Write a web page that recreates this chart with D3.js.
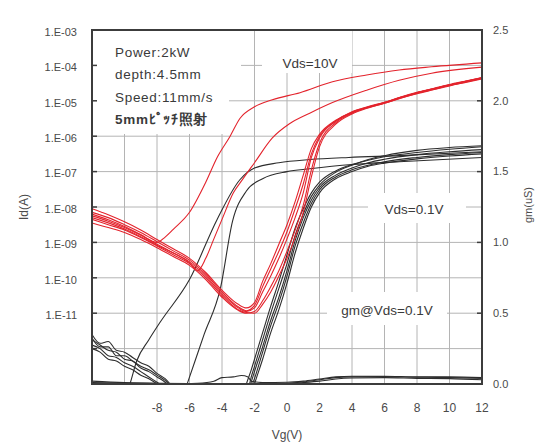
<!DOCTYPE html>
<html>
<head>
<meta charset="utf-8">
<script src="https://cdn.jsdelivr.net/npm/d3@7"></script>
<style>
  body { margin: 0; background: #fff; }
  text { font-family: 'Liberation Sans', Arial, sans-serif; }
</style>
</head>
<body>
<svg width="537" height="444"></svg>
<script>
// ---- data ----
const logTicks = [-3, -4, -5, -6, -7, -8, -9, -10, -11];
const logTickLabels = ['1.E-03', '1.E-04', '1.E-05', '1.E-06', '1.E-07', '1.E-08', '1.E-09', '1.E-10', '1.E-11'];
const vgTicks = [-8, -6, -4, -2, 0, 2, 4, 6, 8, 10, 12];
const gmTicks = [0, 0.5, 1.0, 1.5, 2.0, 2.5];

// Vds=10V, bundle of repeated sweeps (log10 Id)
const vgRed = [-12, -11, -10, -9, -8, -7, -6, -5, -4, -3, -2.5, -2, -1.5, -1, -0.5, 0, 0.5, 1, 1.5, 2, 3, 4, 5, 6, 7, 8, 9, 10, 11, 12];
const red1 = [-8.25, -8.40, -8.58, -8.80, -9.05, -9.30, -9.55, -9.95, -10.45, -10.85, -10.95, -10.85, -10.40, -9.95, -9.45, -8.90, -8.30, -7.60, -6.60, -6.05, -5.58, -5.32, -5.17, -5.05, -4.90, -4.77, -4.66, -4.55, -4.45, -4.35];
const red2 = [-8.05, -8.22, -8.42, -8.65, -8.92, -9.18, -9.45, -9.85, -10.35, -10.75, -10.85, -10.70, -10.10, -9.60, -9.05, -8.50, -7.85, -7.10, -6.35, -5.95, -5.55, -5.33, -5.19, -5.07, -4.93, -4.80, -4.69, -4.58, -4.48, -4.38];
const red3 = [-8.45, -8.58, -8.72, -8.92, -9.15, -9.40, -9.65, -10.05, -10.55, -10.92, -11.00, -10.95, -10.65, -10.25, -9.80, -9.25, -8.65, -7.95, -6.95, -6.20, -5.62, -5.35, -5.18, -5.05, -4.90, -4.77, -4.66, -4.55, -4.45, -4.35];
const red4 = [-8.15, -8.30, -8.50, -8.72, -8.98, -9.24, -9.50, -9.90, -10.40, -10.82, -10.93, -10.78, -10.25, -9.75, -9.25, -8.70, -8.05, -7.35, -6.50, -6.00, -5.57, -5.31, -5.16, -5.04, -4.89, -4.76, -4.65, -4.54, -4.44, -4.34];
const red5 = [-8.35, -8.50, -8.65, -8.86, -9.10, -9.35, -9.60, -10.00, -10.50, -10.90, -10.98, -11.00, -10.75, -10.40, -9.95, -9.45, -8.85, -8.15, -7.15, -6.30, -5.66, -5.37, -5.20, -5.07, -4.92, -4.79, -4.68, -4.57, -4.47, -4.37];

// Vds=10V, two sweeps that turned on early ([Vg, log10 Id])
const redEarlyA = [[-12, -8.2], [-11, -8.36], [-10, -8.55], [-9, -8.78], [-8, -9.0], [-7.5, -8.85], [-7, -8.63], [-6, -8.15], [-5, -7.3], [-4.3, -6.6], [-3.5, -6.0], [-2.9, -5.5], [-2, -5.17], [-0.9, -4.97], [0.8, -4.77], [2.8, -4.46], [4.9, -4.27], [6.9, -4.13], [8.9, -4.04], [12, -3.93]];
const redEarlyB = [[-12, -8.3], [-10, -8.62], [-8, -9.08], [-6, -9.58], [-5.5, -9.8], [-5, -9.45], [-4.5, -8.9], [-4, -8.35], [-3.3, -7.6], [-2.7, -7.2], [-2, -6.75], [-0.9, -6.05], [0.15, -5.65], [1.4, -5.35], [2.8, -5.05], [4.9, -4.7], [6.9, -4.42], [8.9, -4.22], [12, -4.05]];

// Vds=0.1V, bundle (log10 Id)
const vgBlack = [-12, -11.5, -11, -10.5, -10, -9.5, -9, -8.5, -8, -7.5, -7, -5, -3, -2.5, -2.2, -2, -1.5, -1, -0.5, 0, 0.5, 1, 1.5, 2, 3, 4, 5, 6, 8, 10, 12];
const black1 = [-11.6, -11.85, -11.8, -12.05, -12.1, -12.25, -12.4, -12.5, -12.7, -12.85, -13.1, -13.8, -13.9, -13.6, -12.95, -12.65, -11.95, -11.2, -10.55, -9.8, -8.95, -8.3, -7.8, -7.45, -7.1, -6.9, -6.75, -6.65, -6.52, -6.44, -6.38];
const black2 = [-11.75, -11.9, -12.05, -12.1, -12.3, -12.35, -12.55, -12.65, -12.8, -12.95, -13.2, -13.9, -13.9, -13.0, -12.6, -12.3, -11.55, -10.8, -10.1, -9.35, -8.6, -8.05, -7.6, -7.3, -6.98, -6.8, -6.68, -6.58, -6.46, -6.37, -6.3];
const black3 = [-11.9, -12.0, -12.2, -12.25, -12.4, -12.5, -12.65, -12.8, -12.95, -13.1, -13.35, -13.9, -13.9, -13.8, -13.3, -13.0, -12.3, -11.55, -10.9, -10.15, -9.3, -8.6, -8.0, -7.6, -7.2, -7.0, -6.85, -6.76, -6.64, -6.56, -6.5];
const black4 = [-11.7, -11.95, -11.95, -12.2, -12.2, -12.35, -12.5, -12.6, -12.75, -12.9, -13.15, -13.9, -13.9, -13.4, -12.8, -12.5, -11.75, -11.0, -10.3, -9.6, -8.8, -8.2, -7.7, -7.38, -7.02, -6.82, -6.66, -6.55, -6.4, -6.32, -6.27];
const black5 = [-12.0, -12.1, -12.3, -12.35, -12.5, -12.6, -12.75, -12.85, -13.0, -13.2, -13.45, -13.9, -13.9, -13.8, -13.1, -12.85, -12.1, -11.35, -10.7, -9.95, -9.1, -8.45, -7.9, -7.52, -7.15, -6.95, -6.82, -6.72, -6.6, -6.52, -6.46];

// Vds=0.1V, two early sweeps
const blackEarlyC = [[-10.2, -13.6], [-9.7, -13.05], [-9.25, -12.35], [-8.5, -11.75], [-7.8, -11.25], [-6.0, -10.05], [-4.3, -8.35], [-2.9, -7.23], [-2.0, -6.9], [-0.5, -6.75], [1.4, -6.66], [3.8, -6.6], [6.9, -6.55], [12, -6.44]];
const blackEarlyD = [[-6.6, -13.6], [-6.1, -12.94], [-5.1, -11.6], [-4.1, -10.3], [-3.35, -8.4], [-2.5, -7.55], [-1.5, -7.2], [0, -7.0], [1.4, -6.92], [4, -6.8], [6.9, -6.72], [12, -6.6]];

// gm @ Vds=0.1V (uS, right axis)
const gmHump = [[-12, 0.0], [-7, 0.0], [-5.5, 0.005], [-4.5, 0.02], [-4, 0.045], [-3.3, 0.05], [-2.8, 0.06], [-2.4, 0.05], [-2.2, 0.02], [-1.5, 0.01], [0, 0.012], [1, 0.02], [2, 0.035], [3, 0.05], [4, 0.055], [6, 0.055], [8, 0.05], [10, 0.05], [12, 0.045]];
const gm1 = [[-12, 0.02], [-10, 0.01], [-8, 0.005], [-2.3, 0.0], [0, 0.005], [1, 0.015], [2, 0.03], [3, 0.045], [4, 0.05], [6, 0.052], [8, 0.048], [10, 0.045], [12, 0.04]];
const gm2 = [[-12, 0.01], [-9, 0.005], [-2.3, 0.0], [0, 0.002], [1, 0.01], [2, 0.02], [3, 0.035], [4, 0.042], [6, 0.045], [8, 0.04], [10, 0.038], [12, 0.03]];

// ---- layout ----
const svg = d3.select('svg');
const plot = { left: 92, right: 482, top: 30, bottom: 384 };

const xScale = d3.scaleLinear().domain([-12, 12]).range([plot.left, plot.right]);
const yScale = d3.scaleLinear().domain([-13, -3]).range([plot.bottom, plot.top]); // log10 Id
const gmScale = d3.scaleLinear().domain([0, 2.5]).range([plot.bottom, plot.top]);

const gridColor = '#b4b4b4';
const redColor = '#e3232c';
const blackColor = '#2d2d2d';

svg.append('defs').append('clipPath').attr('id', 'plot-clip')
  .append('rect')
    .attr('x', plot.left).attr('y', plot.top)
    .attr('width', plot.right - plot.left).attr('height', plot.bottom - plot.top);

// grid
const grid = svg.append('g').attr('class', 'grid');
grid.selectAll('line.v').data(d3.range(-10, 12, 2)).join('line')
  .attr('class', 'v')
  .attr('x1', d => xScale(d)).attr('x2', d => xScale(d))
  .attr('y1', plot.top).attr('y2', plot.bottom)
  .attr('stroke', gridColor).attr('stroke-width', 1);
grid.selectAll('line.h').data(d3.range(-4, -13, -1)).join('line')
  .attr('class', 'h')
  .attr('x1', plot.left).attr('x2', plot.right)
  .attr('y1', d => yScale(d)).attr('y2', d => yScale(d))
  .attr('stroke', gridColor).attr('stroke-width', 1);

// white boxes behind the annotations
const boxes = [
  { x: 93, y: 31, w: 148, h: 50 },
  { x: 93, y: 31, w: 136, h: 103 },
  { x: 262, y: 31, w: 90, h: 42 },
  { x: 368, y: 193, w: 98, h: 30 },
  { x: 327, y: 292, w: 120, h: 33 }
];
svg.append('g').selectAll('rect').data(boxes).join('rect')
  .attr('x', d => d.x).attr('y', d => d.y)
  .attr('width', d => d.w).attr('height', d => d.h)
  .attr('fill', '#fff');

// curves
const lineId = d3.line()
  .x(d => xScale(d[0]))
  .y(d => yScale(d[1]))
  .curve(d3.curveMonotoneX);
const lineGm = d3.line()
  .x(d => xScale(d[0]))
  .y(d => gmScale(d[1]))
  .curve(d3.curveMonotoneX);

const zip = (xs, ys) => xs.map((x, i) => [x, ys[i]]);

const curves = svg.append('g').attr('clip-path', 'url(#plot-clip)');

const blackSets = [black1, black2, black3, black4, black5].map(ys => zip(vgBlack, ys));
curves.selectAll('path.black').data(blackSets.concat([blackEarlyC, blackEarlyD])).join('path')
  .attr('class', 'black')
  .attr('d', lineId)
  .attr('fill', 'none')
  .attr('stroke', blackColor)
  .attr('stroke-width', 1.1);

curves.selectAll('path.gm').data([gmHump, gm1, gm2]).join('path')
  .attr('class', 'gm')
  .attr('d', lineGm)
  .attr('fill', 'none')
  .attr('stroke', blackColor)
  .attr('stroke-width', 1.1);

const redSets = [red1, red2, red3, red4, red5].map(ys => zip(vgRed, ys));
curves.selectAll('path.red').data(redSets.concat([redEarlyA, redEarlyB])).join('path')
  .attr('class', 'red')
  .attr('d', lineId)
  .attr('fill', 'none')
  .attr('stroke', redColor)
  .attr('stroke-width', 1.1);

// frame
svg.append('rect')
  .attr('x', plot.left).attr('y', plot.top)
  .attr('width', plot.right - plot.left).attr('height', plot.bottom - plot.top)
  .attr('fill', 'none')
  .attr('stroke', '#3c3c3c')
  .attr('stroke-width', 2);

// inward ticks
svg.append('g').selectAll('line').data(d3.range(-4, -13, -1)).join('line')
  .attr('x1', plot.left).attr('x2', plot.left + 5)
  .attr('y1', d => yScale(d)).attr('y2', d => yScale(d))
  .attr('stroke', '#3c3c3c').attr('stroke-width', 1.5);
svg.append('g').selectAll('line').data([0.5, 1.0, 1.5, 2.0]).join('line')
  .attr('x1', plot.right - 5).attr('x2', plot.right)
  .attr('y1', d => gmScale(d)).attr('y2', d => gmScale(d))
  .attr('stroke', '#3c3c3c').attr('stroke-width', 1.5);

// tick labels
const labelColor = '#4a4a4a';
svg.append('g').selectAll('text').data(logTicks).join('text')
  .attr('x', 77)
  .attr('y', d => yScale(d) + 2)
  .attr('dy', '0.35em')
  .attr('text-anchor', 'end')
  .attr('font-size', 11)
  .attr('fill', labelColor)
  .text((d, i) => logTickLabels[i]);

svg.append('g').selectAll('text').data(vgTicks).join('text')
  .attr('x', d => xScale(d))
  .attr('y', 408)
  .attr('dy', '0.35em')
  .attr('text-anchor', 'middle')
  .attr('font-size', 12)
  .attr('fill', labelColor)
  .text(d => d);

svg.append('g').selectAll('text').data(gmTicks).join('text')
  .attr('x', 493)
  .attr('y', d => gmScale(d))
  .attr('dy', '0.35em')
  .attr('font-size', 11)
  .attr('fill', labelColor)
  .text(d => d.toFixed(1));

// axis titles
svg.append('text')
  .attr('x', 287).attr('y', 435).attr('dy', '0.35em')
  .attr('text-anchor', 'middle').attr('font-size', 12).attr('fill', labelColor)
  .text('Vg(V)');
svg.append('text')
  .attr('transform', 'translate(24,207) rotate(-90)')
  .attr('dy', '0.35em')
  .attr('text-anchor', 'middle').attr('font-size', 12).attr('fill', labelColor)
  .text('Id(A)');
svg.append('text')
  .attr('transform', 'translate(528,205) rotate(-90)')
  .attr('dy', '0.35em')
  .attr('text-anchor', 'middle').attr('font-size', 11).attr('fill', labelColor)
  .text('gm(uS)');

// annotations
const noteColor = '#3a3a3a';
const notes = [
  { text: 'Power:2kW', y: 52, bold: false },
  { text: 'depth:4.5mm', y: 74, bold: false },
  { text: 'Speed:11mm/s', y: 97, bold: false },
  { text: '5mmﾋﾟｯﾁ照射', y: 119, bold: true }
];
svg.append('g').selectAll('text').data(notes).join('text')
  .attr('x', 115)
  .attr('y', d => d.y)
  .attr('dy', '0.35em')
  .attr('font-size', 13.5)
  .attr('letter-spacing', 0.7)
  .attr('font-family', "'Liberation Sans', 'Noto Sans CJK JP', sans-serif")
  .attr('font-weight', d => d.bold ? 'bold' : 'normal')
  .attr('fill', noteColor)
  .text(d => d.text);

const curveLabels = [
  { text: 'Vds=10V', x: 310, y: 63 },
  { text: 'Vds=0.1V', x: 414, y: 209 },
  { text: 'gm@Vds=0.1V', x: 387, y: 310 }
];
svg.append('g').selectAll('text').data(curveLabels).join('text')
  .attr('x', d => d.x)
  .attr('y', d => d.y)
  .attr('dy', '0.35em')
  .attr('text-anchor', 'middle')
  .attr('font-size', 13.5)
  .attr('fill', noteColor)
  .text(d => d.text);
</script>
</body>
</html>
